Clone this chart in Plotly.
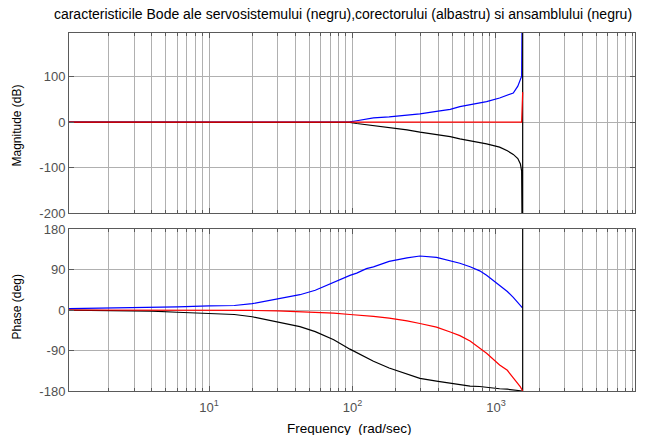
import plotly.graph_objects as go

# Frequency grid (rad/sec)
w = [1, 2, 4, 6, 10, 15, 20, 30, 43, 55, 74, 96, 107, 125, 140, 180, 240, 295, 385,
     480, 560, 660, 770, 860, 1060, 1200, 1320, 1420, 1480, 1510, 1535, 1535]

# Corrector (blue)
blue_mag = [0, 0, 0, 0, 0, 0, 0, 0, 0, 0, 0, 0.5, 3, 6, 9.5, 11.7, 14.5, 18, 23.5,
            28, 34, 38, 41, 45, 53, 59, 64, 79, 94, 101, 400, 400]
blue_ph = [3, 4, 6, 7, 9, 10, 14, 25, 34, 44, 62, 77, 82, 92, 96, 108, 116, 120, 117,
           110, 104, 96, 87, 77, 55, 41, 28, 16, 9, 6, 4, 4]

# Servo system (black)
black_mag = [0, 0, 0, 0, 0, 0, 0, 0, 0, 0, 0, -0.5, -3, -5.5, -7.3, -11, -17, -22, -27,
             -32, -37, -41, -44, -48, -55, -63, -71, -80, -92, -108, -400, 400]
black_ph = [0, -1, -2.5, -5, -7, -10, -15, -27, -37, -48, -66, -87, -95, -107, -114, -129,
            -143, -152, -158, -163, -166, -169, -170, -172, -175, -176, -178, -179, -179,
            -180, -180, 180]

# Ensemble (red)
red_mag = [0, 0, 0, 0, 0, 0, 0, 0, 0, 0, 0, 0, 0, 0, 0, 0, 0, 0, 0,
           0, 0, 0, 0, 0, 0, 0, 0, 0, 0, 0, 66, 66]
red_ph = [0, 0, 0, 0, 0, 0, -1, -2, -4, -5, -7, -10, -11, -13, -14, -18, -24, -30, -38,
          -49, -57, -69, -84, -96, -122, -134, -151, -163, -171, -176, -180, -180]

mag_ticks = [-200, -100, 0, 100]
mag_text = ["-200", "-100", "0", "100"]
ph_ticks = [-180, -90, 0, 90, 180]
ph_text = ["-180", "-90", "0", "90", "180"]
x_major = [10, 100, 1000]
x_major_text = ["10<sup>1</sup>", "10<sup>2</sup>", "10<sup>3</sup>"]
x_minor = [k * 10 ** e for e in range(0, 4) for k in range(2, 10)]

title_text = ("caracteristicile Bode ale servosistemului (negru),corectorului "
              "(albastru) si ansamblului (negru)")

FONT = "Liberation Sans, Arial, sans-serif"
GRID = "#b0b0b0"
AXL = "#5a5a5a"

fig = go.Figure()
series = [("#0000ff", blue_mag, blue_ph), ("#000000", black_mag, black_ph),
          ("#ff0000", red_mag, red_ph)]
for color, mag, ph in series:
    fig.add_trace(go.Scatter(x=w, y=mag, mode="lines", xaxis="x", yaxis="y",
                             line=dict(color=color, width=1.2), showlegend=False,
                             hoverinfo="skip"))
    fig.add_trace(go.Scatter(x=w, y=ph, mode="lines", xaxis="x2", yaxis="y2",
                             line=dict(color=color, width=1.2), showlegend=False,
                             hoverinfo="skip"))

xcommon = dict(type="log", range=[0.024, 3.969], showline=True, linecolor=AXL,
               linewidth=1, mirror="ticks", ticks="inside", ticklen=5, tickcolor=AXL,
               showgrid=True, gridcolor=GRID, gridwidth=1, zeroline=False,
               tickvals=x_major,
               minor=dict(tickmode="array", tickvals=x_minor, ticks="inside", ticklen=3,
                          tickcolor=AXL, showgrid=True, gridcolor=GRID, gridwidth=1),
               tickfont=dict(family=FONT, size=13, color="#505050"))
ycommon = dict(showline=True, linecolor=AXL, linewidth=1, mirror="ticks",
               ticks="inside", ticklen=5, tickcolor=AXL, showgrid=True,
               gridcolor=GRID, gridwidth=1, zeroline=False,
               tickfont=dict(family=FONT, size=13, color="#505050"))

fig.update_layout(
    width=648, height=435,
    margin=dict(l=69, r=13, t=33, b=44),
    paper_bgcolor="white", plot_bgcolor="white",
    xaxis=dict(xcommon, anchor="y", domain=[0, 1],
               ticktext=["", "", ""]),
    xaxis2=dict(xcommon, anchor="y2", domain=[0, 1], ticktext=x_major_text,
                ticklabelstandoff=4),
    yaxis=dict(ycommon, anchor="x", domain=[0.497, 1], range=[-200, 196],
               tickvals=mag_ticks, ticktext=mag_text),
    yaxis2=dict(ycommon, anchor="x2", domain=[0, 0.4525], range=[-180, 180],
                tickvals=ph_ticks, ticktext=ph_text),
    title=dict(text=title_text, x=343 / 648, xanchor="center", xref="container",
               y=1 - 14 / 435, yanchor="middle", yref="container",
               font=dict(family=FONT, size=14, color="black")),
    annotations=[
        dict(text="Magnitude (dB)", textangle=-90, xref="paper", yref="paper",
             x=(16.5 - 69) / 566, y=(391 - 125) / 358, xanchor="center",
             yanchor="middle", showarrow=False,
             font=dict(family=FONT, size=12, color="black")),
        dict(text="Phase (deg)", textangle=-90, xref="paper", yref="paper",
             x=(16.5 - 69) / 566, y=(391 - 307) / 358, xanchor="center",
             yanchor="middle", showarrow=False,
             font=dict(family=FONT, size=12, color="black")),
        dict(text="Frequency \u00a0(rad/sec)", xref="paper", yref="paper",
             x=(349 - 69) / 566, y=(391 - 428) / 358, xanchor="center",
             yanchor="middle", showarrow=False,
             font=dict(family=FONT, size=13.5, color="black")),
    ],
)

fig.write_html("out.html")
